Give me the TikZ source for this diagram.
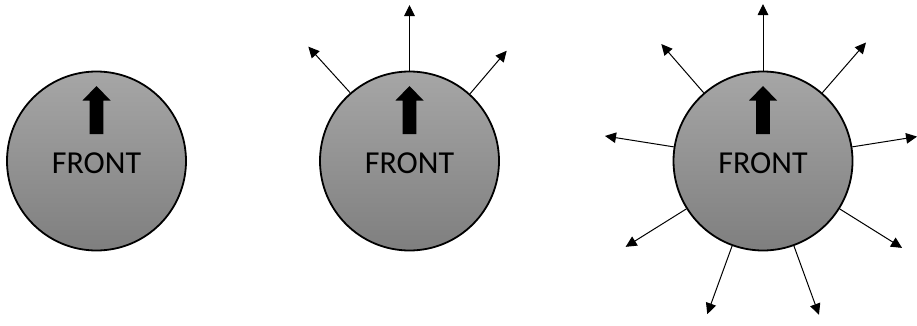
\documentclass[tikz,border=0pt]{standalone}
\usepackage{fontspec}
\setmainfont{Carlito}
\usetikzlibrary{arrows.meta}
\definecolor{gtop}{HTML}{A6A6A6}
\definecolor{gbot}{HTML}{7F7F7F}
\tikzset{
  disc/.style={circle, draw=black, line width=1.8pt, minimum size=179pt, inner sep=0pt,
    top color=gtop, bottom color=gbot},
  ray/.style={line width=1pt, -{Triangle[length=11pt,width=10.5pt]}},
  lbl/.style={font=\fontsize{32}{36}\selectfont, anchor=base, inner sep=0pt}
}
\newcommand{\frontarrow}[1]{%
  \fill[black] ([shift={(-6.8,27)}]#1.center) -- ([shift={(-6.8,60.5)}]#1.center)
    -- ([shift={(-14,60.5)}]#1.center) -- ([shift={(0,75)}]#1.center)
    -- ([shift={(14,60.5)}]#1.center) -- ([shift={(6.8,60.5)}]#1.center)
    -- ([shift={(6.8,27)}]#1.center) -- cycle;}
\begin{document}
\begin{tikzpicture}[x=1pt,y=1pt]
\useasboundingbox (0,0) rectangle (917,325);
\node[disc] (c1) at (96.5,164) {};
\node[disc] (c2) at (409.5,164) {};
\node[disc] (c3) at (763,164) {};
\foreach \c in {c1,c2,c3}{
  \frontarrow{\c}
  \node[lbl] (t\c) at ([yshift=-12.3]\c.center) {FRONT};
}
% circle 2 rays
\foreach \a/\d [count=\i] in {90/156, 131.5/152.7, 48.6/147}{
  \coordinate (b\i) at ([shift={(\a:\d)}]c2.center);
  \draw[ray] (c2.\a) -- (b\i);
}
% circle 3 rays
\foreach \a/\d [count=\i] in {90/157, 131/155, 49/157, 171/160, 9/156, 212/162, 328/164, 250/163, 290/163.6}{
  \coordinate (e\i) at ([shift={(\a:\d)}]c3.center);
  \draw[ray] (c3.\a) -- (e\i);
}
\end{tikzpicture}
\end{document}
